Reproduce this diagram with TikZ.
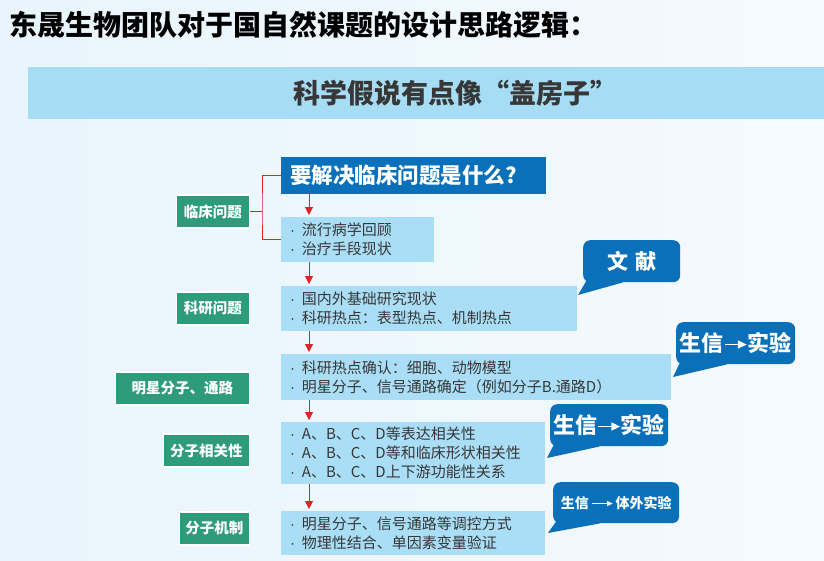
\documentclass[tikz,border=0pt]{standalone}
\usepackage{fontspec}
\setmainfont{Noto Sans CJK SC}
\newfontfamily\latinfont{Liberation Sans}
\usetikzlibrary{arrows.meta}
\definecolor{bgleft}{RGB}{232,245,252}
\definecolor{bgright}{RGB}{245,250,254}
\definecolor{banner}{RGB}{166,221,245}
\definecolor{deepblue}{RGB}{10,112,185}
\definecolor{skyblue}{RGB}{170,222,246}
\definecolor{labelgreen}{RGB}{46,155,122}
\definecolor{arrowred}{RGB}{224,34,38}
\definecolor{textgray}{RGB}{55,55,55}
\newcommand{\toarrow}[1]{\tikz[baseline=-0.6ex]\draw[white, line width=0.07em, -{Triangle[width=0.36em,length=0.4em]}] (0pt,0pt) -- (#1,0pt);}
\newcommand{\bul}{{\latinfont·}\hspace{0.45em}}
\begin{document}
\begin{tikzpicture}[x=1pt, y=-1pt,
    infobox/.style={fill=skyblue, anchor=north west, align=left, inner xsep=9pt, inner ysep=0pt, text=textgray, font=\fontsize{15}{19}\selectfont},
    tag/.style={fill=labelgreen, draw=white, line width=1.5pt, anchor=east, text=white, minimum height=33pt, inner xsep=0pt, font=\bfseries\fontsize{14.5}{17}\selectfont},
    callout/.style={fill=deepblue, rounded corners=7pt, anchor=north west, text=white, inner sep=0pt},
    flow/.style={arrowred, line width=1pt, shorten >=2pt, -{Triangle[width=8pt,length=8pt]}},
    bracket/.style={arrowred, line width=1pt}]
    \shade[left color=bgleft, right color=bgright] (0,0) rectangle (824,560);
    \useasboundingbox (0,0) rectangle (824,560);
    % title and banner
    \node[anchor=west, inner sep=0pt, font=\bfseries\fontsize{28}{30}\selectfont] (title) at (9,25) {东晟生物团队对于国自然课题的设计思路逻辑：};
    \fill[banner] (28,67) rectangle (824,119);
    \node[text=textgray, font=\bfseries\fontsize{27}{29}\selectfont] (motto) at (455,93) {科学假说有点像“盖房子”};
    % flow boxes
    \node[fill=deepblue, anchor=north west, text width=247pt, minimum height=37pt, inner xsep=9pt, align=left, text=white, font=\bfseries\fontsize{21.5}{24}\selectfont] (q) at (281,157) {要解决临床问题是什么?};
    \node[infobox, text width=135pt, minimum height=45pt] (b1) at (281,217) {\bul 流行病学回顾\\\bul 治疗手段现状};
    \node[infobox, text width=278pt, minimum height=45pt] (b2) at (281,286) {\bul 国内外基础研究现状\\\bul 科研热点：表型热点、机制热点};
    \node[infobox, text width=372pt, minimum height=46pt] (b3) at (281,354) {\bul 科研热点确认：细胞、动物模型\\\bul 明星分子、信号通路确定（例如分子B.通路D）};
    \node[infobox, text width=246pt, minimum height=62pt] (b4) at (281,422) {\bul A、B、C、D等表达相关性\\\bul A、B、C、D等和临床形状相关性\\\bul A、B、C、D上下游功能性关系};
    \node[infobox, text width=246pt, minimum height=44pt] (b5) at (281,511) {\bul 明星分子、信号通路等调控方式\\\bul 物理性结合、单因素变量验证};
    % labels on the left
    \node[tag, minimum width=73pt] (g1) at (250,211.5) {临床问题};
    \node[tag, minimum width=73pt] (g2) at (250,308.5) {科研问题};
    \node[tag, minimum width=134pt] (g3) at (250,388.5) {明星分子、通路};
    \node[tag, minimum width=86pt] (g4) at (250,450.5) {分子相关性};
    \node[tag, minimum width=70pt] (g5) at (250,528.5) {分子机制};
    % red arrows
    \draw[flow] ([xshift=28pt]q.south west) -- ([xshift=28pt]b1.north west);
    \draw[flow] ([xshift=28pt]b1.south west) -- ([xshift=28pt]b2.north west);
    \draw[flow] ([xshift=28pt]b2.south west) -- ([xshift=28pt]b3.north west);
    \draw[flow] ([xshift=28pt]b3.south west) -- ([xshift=28pt]b4.north west);
    \draw[flow] ([xshift=28pt]b4.south west) -- ([xshift=28pt]b5.north west);
    \draw[bracket] (g1.east) -- ++(12,0);
    \draw[bracket] (q.west) -| ([xshift=12pt]g1.east) |- (b1.west);
    % callouts
    \node[callout, minimum width=97pt, minimum height=42pt, font=\bfseries\fontsize{21}{24}\selectfont] (c1) at (583,240) {文\hspace{0.35em}献};
    \node[callout, minimum width=119pt, minimum height=42pt, font=\bfseries\fontsize{22}{24}\selectfont] (c2) at (676,322) {生信\toarrow{1em}实验};
    \node[callout, minimum width=118pt, minimum height=42pt, font=\bfseries\fontsize{22}{24}\selectfont] (c3) at (550,404) {生信\toarrow{1em}实验};
    \node[callout, minimum width=126pt, minimum height=41pt, font=\bfseries\fontsize{14}{16}\selectfont] (c4) at (553,482) {生信\,\toarrow{1.5em}\,体外实验};
    \coordinate (t1) at (578,295);
    \coordinate (t2) at (673,377);
    \coordinate (t3) at (547,458);
    \coordinate (t4) at (548,533);
    \fill[deepblue] ([xshift=6pt,yshift=6pt]c1.south west) -- ([xshift=40pt]c1.south west) -- (t1) -- cycle;
    \fill[deepblue] ([xshift=6pt,yshift=6pt]c2.south west) -- ([xshift=51pt]c2.south west) -- (t2) -- cycle;
    \fill[deepblue] ([xshift=6pt,yshift=6pt]c3.south west) -- ([xshift=50pt]c3.south west) -- (t3) -- cycle;
    \fill[deepblue] ([xshift=6pt,yshift=6pt]c4.south west) -- ([xshift=47pt]c4.south west) -- (t4) -- cycle;
\end{tikzpicture}
\end{document}
